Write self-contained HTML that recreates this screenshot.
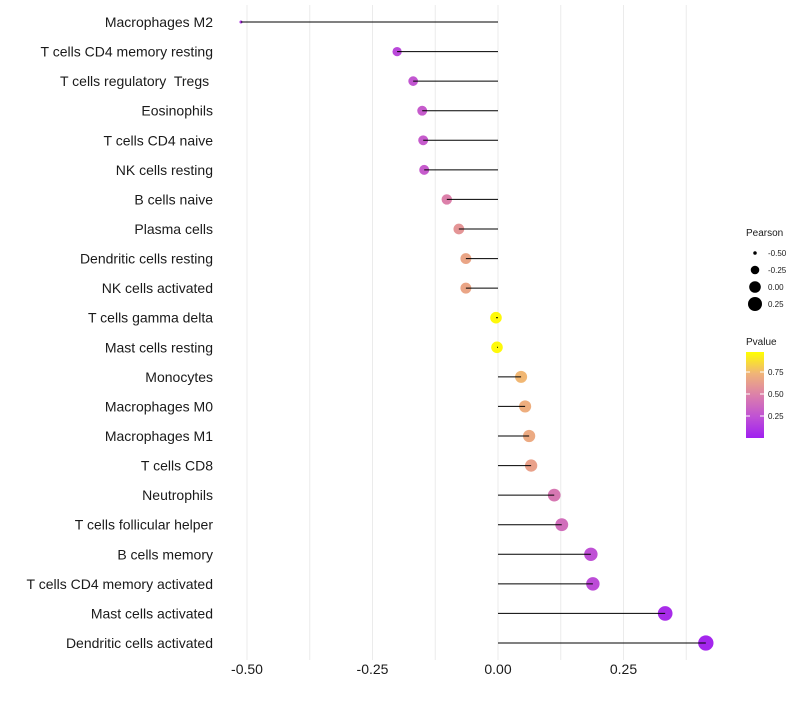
<!DOCTYPE html>
<html><head><meta charset="utf-8"><style>
body{margin:0;background:#fff;}
svg text{font-family:"Liberation Sans",sans-serif;white-space:pre;}
</style></head><body>
<svg id="chart" width="800" height="700"></svg>
<script>
const categories=["Macrophages M2","T cells CD4 memory resting","T cells regulatory  Tregs ","Eosinophils","T cells CD4 naive","NK cells resting","B cells naive","Plasma cells","Dendritic cells resting","NK cells activated","T cells gamma delta","Mast cells resting","Monocytes","Macrophages M0","Macrophages M1","T cells CD8","Neutrophils","T cells follicular helper","B cells memory","T cells CD4 memory activated","Mast cells activated","Dendritic cells activated"];
const pearson=[-0.512,-0.201,-0.169,-0.151,-0.149,-0.147,-0.102,-0.078,-0.064,-0.064,-0.004,-0.002,0.046,0.054,0.062,0.066,0.112,0.127,0.185,0.189,0.333,0.414];
const pvalue=[0.12,0.2,0.27,0.3,0.3,0.3,0.5,0.6,0.68,0.68,0.98,0.98,0.76,0.72,0.7,0.66,0.45,0.4,0.24,0.22,0.06,0.03];
const xTicks=[-0.5,-0.25,0,0.25];
const xTickLabels=["-0.50","-0.25","0.00","0.25"];
const sizeLegend=[-0.5,-0.25,0,0.25];
const sizeLegendLabels=["-0.50","-0.25","0.00","0.25"];
const colorLegend=[0.25,0.5,0.75];
const colorLegendLabels=["0.25","0.50","0.75"];

const svg=document.getElementById('chart');
const NS='http://www.w3.org/2000/svg';
function mk(t,a,parent){const e=document.createElementNS(NS,t);for(const k in a)e.setAttribute(k,a[k]);(parent||svg).appendChild(e);return e;}
const x=v=>498+v*502;
const y=i=>22+i*(621/21);
const r=v=>7*Math.sqrt(Math.max(v+0.55,0.01)/0.8);
const stops=[[0,[160,32,240]],[0.25,[192,82,212]],[0.5,[220,128,170]],[0.75,[240,180,120]],[1,[255,255,0]]];
function col(p){for(let i=0;i<stops.length-1;i++){const [a,ca]=stops[i],[b,cb]=stops[i+1];if(p<=b){const t=(p-a)/(b-a);return 'rgb('+ca.map((c,j)=>Math.round(c+(cb[j]-c)*t)).join(',')+')';}}return 'rgb(255,255,0)';}

for(let v=-0.5;v<=0.4;v+=0.125){
  const g=mk('line',{x1:x(v),x2:x(v),y1:5,y2:660,stroke:'#ebebeb','stroke-width':1});
  
  
}
xTicks.forEach((v,i)=>{
  const t=mk('text',{x:x(v),y:674,'font-size':14,'text-anchor':'middle',fill:'#1a1a1a'});
  t.textContent=xTickLabels[i];
  
  
});
categories.forEach((c,i)=>{
  const t=mk('text',{x:213,y:y(i)+5,'font-size':14,'text-anchor':'end',fill:'#1a1a1a'});
  t.textContent=c;
  
  
  const p=mk('circle',{cx:x(pearson[i]),cy:y(i),r:r(pearson[i]),fill:col(pvalue[i])});
  
  
  const l=mk('line',{x1:x(0),x2:x(pearson[i]),y1:y(i),y2:y(i),stroke:'#000','stroke-width':1});
  
  
});
let tt=mk('text',{x:746,y:236,'font-size':10,fill:'#1a1a1a'});tt.textContent='Pearson';


sizeLegend.forEach((v,i)=>{
  const cy=253+i*17;
  const c=mk('circle',{cx:755,cy:cy,r:r(v),fill:'#000'});
  
  
  const t=mk('text',{x:768,y:cy+3,'font-size':8,fill:'#1a1a1a'});t.textContent=sizeLegendLabels[i];
  
  
});
tt=mk('text',{x:746,y:345,'font-size':10,fill:'#1a1a1a'});tt.textContent='Pvalue';


const defs=mk('defs',{});
const lg=mk('linearGradient',{id:'pg',x1:0,y1:1,x2:0,y2:0},defs);
stops.forEach(s=>mk('stop',{offset:s[0],'stop-color':'rgb('+s[1].join(',')+')'},lg));
const bar=mk('rect',{x:746,y:352,width:18,height:86,fill:'url(#pg)'});


const cy=p=>438-p*88;
colorLegend.forEach((v,i)=>{
  mk('line',{x1:746,x2:750,y1:cy(v),y2:cy(v),stroke:'#fff'});
  mk('line',{x1:760,x2:764,y1:cy(v),y2:cy(v),stroke:'#fff'});
  const t=mk('text',{x:768,y:cy(v)+3,'font-size':8,fill:'#1a1a1a'});t.textContent=colorLegendLabels[i];
  
  
});
</script>
</body></html>
